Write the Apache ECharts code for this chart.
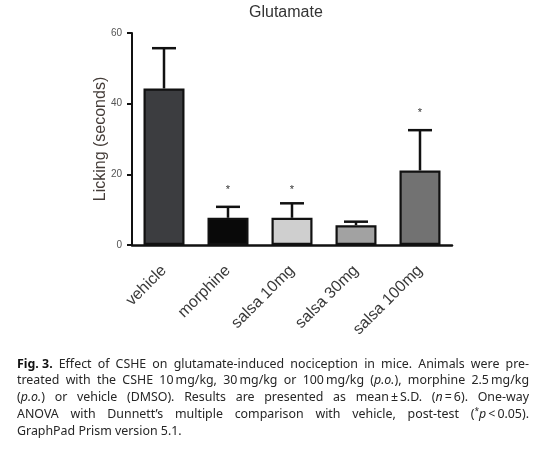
<!DOCTYPE html>
<html>
<head>
<meta charset="utf-8">
<script src="https://cdn.jsdelivr.net/npm/echarts@6/dist/echarts.min.js"></script>
<style>
html,body{margin:0;padding:0;background:#fff;}
#chart{width:550px;height:456px;}
</style>
</head>
<body>
<div id="chart"></div>
<script>
// ---- data ----
const categories = ['vehicle', 'morphine', 'salsa 10mg', 'salsa 30mg', 'salsa 100mg'];
const meanValues = [44.3, 7.7, 7.7, 5.6, 21.1];
const sdValues = [11.4, 3.1, 4.1, 1.0, 11.4];
const sigMarks = [null, 15.5, 15.5, null, 37.5];
const barColors = ['#3c3d40', '#090909', '#cfcfcf', '#a2a2a2', '#727272'];
const yTicks = [0, 20, 40, 60];
const chartTitle = 'Glutamate';
const yAxisTitle = 'Licking (seconds)';
const captionLines = [
  '{b|Fig.\u00a03.} Effect of CSHE on glutamate-induced nociception in mice. Animals were pre-',
  'treated with the CSHE 10\u2009mg/kg, 30\u2009mg/kg or 100\u2009mg/kg ({i|p.o.}), morphine 2.5\u2009mg/kg',
  '({i|p.o.}) or vehicle (DMSO). Results are presented as mean\u2009±\u2009S.D. ({i|n}\u2009=\u20096). One-way',
  'ANOVA with Dunnett\u2019s multiple comparison with vehicle, post-test ({s|*}{i|p}\u2009<\u20090.05).',
  'GraphPad Prism version 5.1.'
];

// ---- caption layout (justified text) ----
const capFamily = '"Noto Sans", "DejaVu Sans", sans-serif';
const capSize = 12.4;
const capLeft = 17, capRight = 529, capTop = 364, capStep = 16.8;
function runFont(style) {
  if (style === 'b') return 'bold ' + capSize + 'px ' + capFamily;
  if (style === 'i') return 'italic ' + capSize + 'px ' + capFamily;
  if (style === 's') return (capSize - 4) + 'px ' + capFamily;
  return capSize + 'px ' + capFamily;
}
const mctx = document.createElement('canvas').getContext('2d');
function measure(text, style) { mctx.font = runFont(style); return mctx.measureText(text).width; }
function parseWord(word) {
  const runs = [];
  const re = /\{(\w)\|([^}]*)\}|([^{]+)/g;
  let m;
  while ((m = re.exec(word)) !== null) {
    if (m[1]) runs.push({ style: m[1], text: m[2] });
    else runs.push({ style: 'n', text: m[3] });
  }
  return runs;
}
const captionGraphics = [];
captionLines.forEach(function (line, li) {
  const words = line.split(' ').map(parseWord);
  const widths = words.map(function (runs) {
    return runs.reduce(function (s, r) { return s + measure(r.text, r.style); }, 0);
  });
  const spaceW = measure(' ', 'n');
  const total = widths.reduce(function (a, b) { return a + b; }, 0);
  const justify = li < captionLines.length - 1;
  const gap = justify ? (capRight - capLeft - total) / (words.length - 1) : spaceW;
  let x = capLeft;
  const y = capTop + li * capStep;
  words.forEach(function (runs) {
    runs.forEach(function (r) {
      captionGraphics.push({
        type: 'text', x: x, y: r.style === 's' ? y - 3 : y, silent: true,
        style: { text: r.text, font: runFont(r.style), fill: r.style === 'b' ? '#111' : '#262626', verticalAlign: 'middle' }
      });
      x += measure(r.text, r.style);
    });
    x += gap;
  });
});

// ---- chart ----
const chart = echarts.init(document.getElementById('chart'));
const labelFont = '"Liberation Sans", Arial, Helvetica, sans-serif';
chart.setOption({
  backgroundColor: '#fff',
  animation: false,
  title: {
    text: chartTitle, left: 244, top: 0,
    textStyle: { fontFamily: labelFont, fontSize: 16, fontWeight: 'normal', color: '#333' }
  },
  grid: { left: 132, right: 98, top: 33, bottom: 211, containLabel: false },
  xAxis: {
    type: 'category', data: categories,
    axisLine: { lineStyle: { color: '#111', width: 2.5 } },
    axisTick: { alignWithLabel: true, length: 5, lineStyle: { color: '#111', width: 2 } },
    axisLabel: { rotate: 45, margin: 23, fontFamily: labelFont, fontSize: 16, color: '#3a3a3a', interval: 0 }
  },
  yAxis: {
    type: 'value', min: yTicks[0], max: yTicks[yTicks.length - 1], interval: yTicks[1] - yTicks[0],
    name: yAxisTitle, nameLocation: 'middle', nameGap: 23, nameRotate: 90, nameMoveOverlap: false,
    nameTextStyle: { fontFamily: labelFont, fontSize: 16, color: '#443c38' },
    axisLine: { show: true, lineStyle: { color: '#111', width: 2 } },
    axisTick: { show: true, length: 5, lineStyle: { color: '#111', width: 2 } },
    axisLabel: { margin: 10, fontFamily: labelFont, fontSize: 10, color: '#555' },
    splitLine: { show: false }
  },
  series: [
    {
      type: 'bar', barWidth: 41, z: 2,
      data: meanValues.map(function (v, i) {
        return { value: v, itemStyle: { color: barColors[i], borderColor: '#111', borderWidth: 2.2 } };
      })
    },
    {
      type: 'custom', z: 3,
      data: meanValues.map(function (v, i) { return [i, v, v + sdValues[i]]; }),
      renderItem: function (params, api) {
        const p0 = api.coord([api.value(0), api.value(1)]);
        const p1 = api.coord([api.value(0), api.value(2)]);
        const hw = 12;
        return {
          type: 'group',
          children: [
            { type: 'line', shape: { x1: p0[0], y1: p0[1], x2: p1[0], y2: p1[1] }, style: { stroke: '#111', lineWidth: 2.5 } },
            { type: 'line', shape: { x1: p1[0] - hw, y1: p1[1], x2: p1[0] + hw, y2: p1[1] }, style: { stroke: '#111', lineWidth: 2.5 } }
          ]
        };
      }
    },
    {
      type: 'custom', z: 3,
      data: sigMarks.map(function (v, i) { return [i, v]; }).filter(function (d) { return d[1] !== null; }),
      renderItem: function (params, api) {
        const p = api.coord([api.value(0), api.value(1)]);
        return {
          type: 'text', x: p[0], y: p[1],
          style: { text: '*', font: '11px ' + labelFont, fill: '#333', align: 'center', verticalAlign: 'middle' }
        };
      }
    }
  ],
  graphic: captionGraphics
});
</script>
</body>
</html>
